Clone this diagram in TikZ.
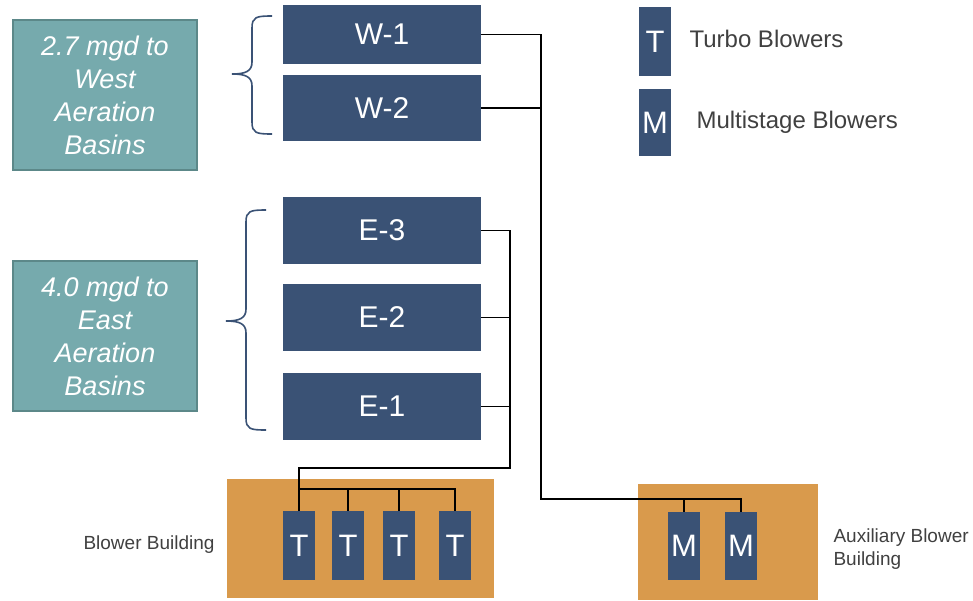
\documentclass[tikz,border=0pt]{standalone}
\usepackage{fontspec}
\setmainfont{Liberation Sans}
\definecolor{unitblue}{HTML}{3A5275}
\definecolor{basinteal}{HTML}{76AAAD}
\definecolor{basinedge}{HTML}{5C8889}
\definecolor{bldgorange}{HTML}{D99A4C}
\definecolor{labelgray}{HTML}{404040}
\tikzset{
  unit/.style={fill=unitblue, text=white, inner sep=0pt, minimum width=198pt,
    font=\fontsize{30}{34}\selectfont},
  blower/.style={fill=unitblue, text=white, inner sep=0pt, minimum width=32pt,
    minimum height=69pt, font=\fontsize{31}{34}\selectfont},
  basin/.style={fill=basinteal, draw=basinedge, line width=2pt, text=white,
    inner sep=0pt, minimum width=184pt, minimum height=150pt, align=center,
    font=\itshape\fontsize{27}{33}\selectfont},
  building/.style={fill=bldgorange, inner sep=0pt},
  pipe/.style={line width=1.6pt},
  bracket/.style={draw=unitblue, line width=1.6pt},
  legendtext/.style={text=labelgray, anchor=west, font=\fontsize{24}{28}\selectfont},
  bldgtext/.style={text=labelgray, anchor=west, align=left, font=\fontsize{19}{23}\selectfont}
}
\begin{document}
\begin{tikzpicture}[x=1pt, y=-1pt]
    \useasboundingbox (0,0) rectangle (973,600);

    % basins
    \node[basin] (WB) at (105,95) {2.7 mgd to\\West\\Aeration\\Basins};
    \node[basin] (EB) at (105,336) {4.0 mgd to\\East\\Aeration\\Basins};

    % aeration units
    \node[unit, minimum height=59pt] (W1) at (382,34.5) {W-1};
    \node[unit, minimum height=66pt] (W2) at (382,108) {W-2};
    \node[unit, minimum height=67pt] (E3) at (382,230.5) {E-3};
    \node[unit, minimum height=67pt] (E2) at (382,317.5) {E-2};
    \node[unit, minimum height=67pt] (E1) at (382,406.5) {E-1};

    % braces
    \draw[bracket] (272,16) .. controls (256,16) and (252,17) .. (252,28) -- (252,62)
        .. controls (252,71) and (246,74) .. (232,74)
        .. controls (246,74) and (252,77) .. (252,86) -- (252,122)
        .. controls (252,133) and (256,134) .. (272,134);
    \draw[bracket] (266,210) .. controls (250,210) and (246,211) .. (246,222) -- (246,309)
        .. controls (246,318) and (240,321) .. (226,321)
        .. controls (240,321) and (246,324) .. (246,333) -- (246,418)
        .. controls (246,429) and (250,430) .. (266,430);

    % legend
    \node[blower] (LT) at (655,41.5) {T};
    \node[blower, minimum height=67pt] (LM) at (655,122.5) {M};
    \node[legendtext] (LTtext) at (686,39) {Turbo Blowers};
    \node[legendtext] (LMtext) at (693,122) {Multistage Blowers};

    % buildings
    \node[building, minimum width=267pt, minimum height=119pt] (BB) at (360.5,538.5) {};
    \node[building, minimum width=180pt, minimum height=116pt] (AB) at (728,542) {};
    \node[bldgtext] (BBtext) at (80,545) {Blower Building};
    \node[bldgtext] (ABtext) at (830,549) {Auxiliary Blower\\Building};

    % blowers
    \node[blower] (T1) at (299,545.5) {T};
    \node[blower] (T2) at (348,545.5) {T};
    \node[blower] (T3) at (399,545.5) {T};
    \node[blower] (T4) at (455,545.5) {T};
    \node[blower, minimum height=68pt] (M1) at (684,546) {M};
    \node[blower, minimum height=68pt] (M2) at (741,546) {M};

    % headers
    \coordinate (wbus) at (541,499);
    \coordinate (ebus) at (510,468);
    \coordinate (tbus) at (299,489);

    \draw[pipe] (W1) -- (W1 -| wbus) -- (wbus) -| (M2.north);
    \draw[pipe] (W2) -- (W2 -| wbus);
    \draw[pipe] (M1.north) -- (M1.north |- wbus);

    \draw[pipe] (E3) -- (E3 -| ebus) -- (ebus) -| (T1.north);
    \draw[pipe] (E2) -- (E2 -| ebus);
    \draw[pipe] (E1) -- (E1 -| ebus);
    \draw[pipe] (tbus) -| (T4.north);
    \draw[pipe] (T2.north) -- (T2.north |- tbus);
    \draw[pipe] (T3.north) -- (T3.north |- tbus);
\end{tikzpicture}
\end{document}
